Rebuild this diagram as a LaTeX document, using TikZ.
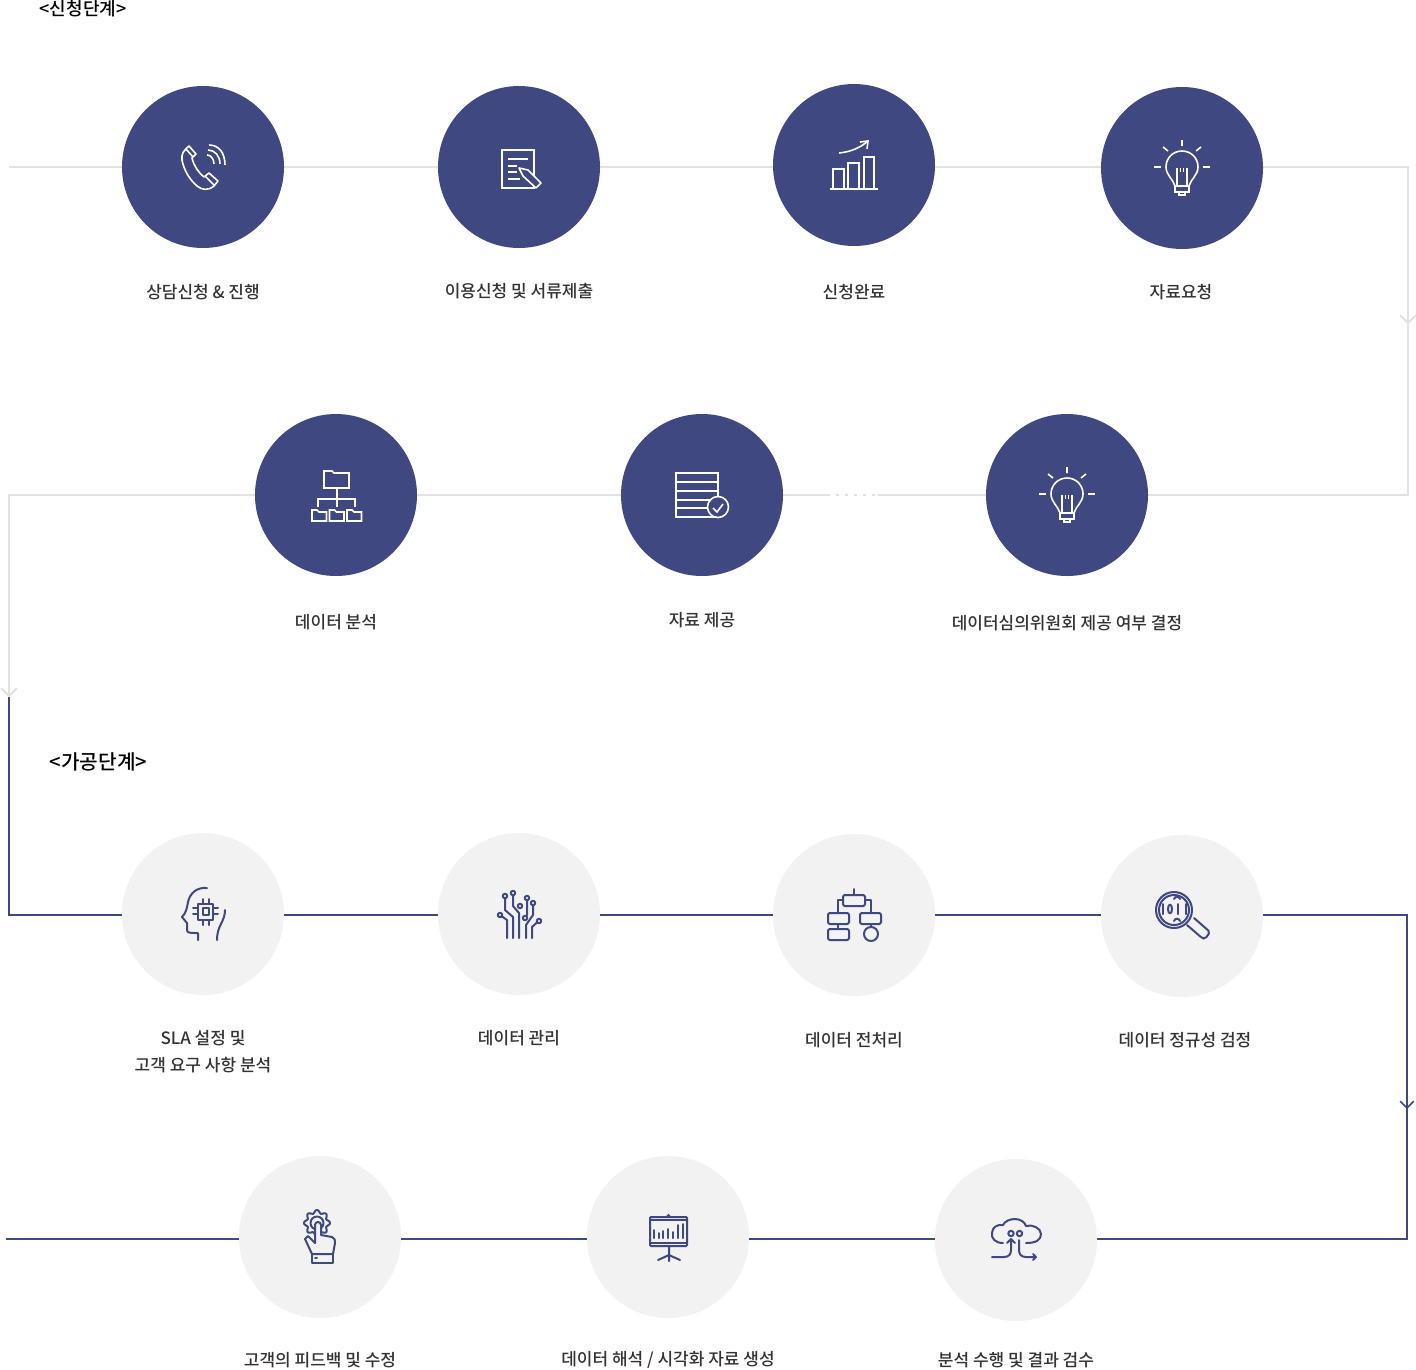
\documentclass[tikz,border=0pt]{standalone}
\usepackage{fontspec}
\setmainfont{Noto Sans CJK KR Medium}
\usetikzlibrary{backgrounds}
\definecolor{navy}{HTML}{3F4880}
\definecolor{pale}{HTML}{F2F2F2}
\definecolor{rule}{HTML}{E2E2E2}
\definecolor{ink}{HTML}{333333}
\tikzset{
  darkdot/.style={circle,fill=navy,minimum size=162pt,inner sep=0},
  paledot/.style={circle,fill=pale,minimum size=162pt,inner sep=0},
  steplabel/.style={text=ink,font=\fontsize{17}{27}\selectfont,align=center,inner sep=0},
  grayline/.style={draw=rule,line width=2pt},
  blueline/.style={draw=navy,line width=2pt},
  wicon/.style={draw=white,line width=1.6pt},
  bicon/.style={draw=navy,line width=2pt,line cap=round,line join=round},
  chevron/.pic={\draw[pic actions,fill=none] (-8,-8) -- (0,0) -- (8,-8);},
  bulb/.pic={
    \draw[wicon,fill=navy] (-7,19) .. controls (-9,12) and (-16,8) .. (-16,0) .. controls (-16,-9) and (-9,-16) .. (0,-16)
      .. controls (9,-16) and (16,-9) .. (16,0) .. controls (16,8) and (9,12) .. (7,19) -- cycle;
    \draw[wicon] (-5,19) -- (-5,1) (5,1) -- (5,19);
    \draw[draw=white,line width=1.1pt] (-1.7,1) -- (-1.7,5) (1.7,1) -- (1.7,5);
    \draw[wicon] (-7,19) rectangle (7,25) (-3,25) rectangle (3,28);
    \draw[wicon] (0,-27) -- (0,-21) (-19,-20) -- (-14,-16) (19,-20) -- (14,-16);
    \draw[wicon] (-28,0) -- (-21,0) (21,0) -- (28,0);
  }
}
\begin{document}
\begin{tikzpicture}[x=1pt,y=-1pt]
\useasboundingbox (0,0) rectangle (1416,1369);
% first stage
\node[text=black,font=\fontsize{18}{20}\selectfont,inner sep=0] (reqtitle) at (83,9) {<신청단계>};
\node[darkdot] (req1) at (203,167) {};
\node[darkdot] (req2) at (519,167) {};
\node[darkdot] (req3) at (854,165) {};
\node[darkdot] (req4) at (1182,168) {};
\node[darkdot] (rev1) at (336,495) {};
\node[darkdot] (rev2) at (702,495) {};
\node[darkdot] (rev3) at (1067,495) {};
\node[steplabel] (reqtext1) at (203,292) {상담신청 \& 진행};
\node[steplabel] (reqtext2) at (519,291) {이용신청 및 서류제출};
\node[steplabel] (reqtext3) at (854,292) {신청완료};
\node[steplabel] (reqtext4) at (1181,292) {자료요청};
\node[steplabel] (revtext1) at (336,622) {데이터 분석};
\node[steplabel] (revtext2) at (702,620) {자료 제공};
\node[steplabel] (revtext3) at (1067,623) {데이터심의위원회 제공 여부 결정};
% second stage
\node[text=black,font=\fontsize{20.2}{22}\selectfont,inner sep=0] (protitle) at (98.5,762) {<가공단계>};
\node[paledot] (pro1) at (203,914) {};
\node[paledot] (pro2) at (519,914) {};
\node[paledot] (pro3) at (854,915) {};
\node[paledot] (pro4) at (1182,916) {};
\node[paledot] (ana1) at (320,1237) {};
\node[paledot] (ana2) at (668,1237) {};
\node[paledot] (ana3) at (1016,1240) {};
\node[steplabel] (protext1) at (203,1051.5) {SLA 설정 및\\고객 요구 사항 분석};
\node[steplabel] (protext2) at (519,1038) {데이터 관리};
\node[steplabel] (protext3) at (854,1040) {데이터 전처리};
\node[steplabel] (protext4) at (1185,1040) {데이터 정규성 검정};
\node[steplabel] (anatext1) at (320,1360) {고객의 피드백 및 수정};
\node[steplabel] (anatext2) at (668,1360) {데이터 해석 / 시각화 자료 생성};
\node[steplabel] (anatext3) at (1016,1360) {분석 수행 및 결과 검수};
% connectors
\coordinate (gstart) at (9,167);
\coordinate (gtop) at (1408,167);
\coordinate (gmid) at (1408,495);
\coordinate (gleft) at (9,495);
\coordinate (gend) at (9,697);
\coordinate (btop) at (9,697);
\coordinate (bleft) at (9,915);
\coordinate (bright) at (1407,915);
\coordinate (bdown) at (1407,1239);
\coordinate (bend) at (6,1239);
\begin{scope}[on background layer]
\draw[grayline] (gstart) -- (req1 |- gstart) -- (req2 |- gstart) -- (req3 |- gstart) -- (req4 |- gstart) -- (gtop)
  -- (gmid) -- (rev3) -- (rev2) -- (rev1) -- (gleft) -- (gend);
\draw[blueline] (btop) -- (bleft) -- (pro1 |- bleft) -- (pro2 |- bleft) -- (pro3 |- bleft) -- (pro4 |- bleft) -- (bright)
  -- (bdown) -- (ana3 |- bdown) -- (ana2 |- bdown) -- (ana1 |- bdown) -- (bend);
\end{scope}
\pic[grayline] at (1408,323) {chevron};
\pic[grayline] at (9,696) {chevron};
\pic[draw=navy,line width=1.5pt,scale=.85] at (1407,1108) {chevron};
\draw[white,line width=1.2pt,dash pattern=on 6pt off 3pt] (830,495) -- (878,495);
% phone
\draw[wicon,line join=round] (189,146) -- (196,154) -- (192,158) .. controls (194,166) and (198,172) .. (204,177) -- (209,173) -- (218,181)
  -- (214,186) .. controls (208,191) and (202,190) .. (197,186) .. controls (189,179) and (184,170) .. (182,160) .. controls (181,154) and (184,150) .. cycle;
\draw[wicon] (186,149) -- (193,157) (205,176) -- (214,185);
\draw[wicon] (207,155) .. controls (211,155) and (214,159) .. (214,164);
\draw[wicon] (208,150) .. controls (215,150) and (220,156) .. (220,164);
\draw[wicon] (209,145) .. controls (219,145) and (225,153) .. (225,165);
% document
\draw[wicon] (502,150) rectangle (534,188);
\draw[wicon] (508,159) -- (528,159) (508,166) -- (517,166) (508,172) -- (517,172) (508,179) -- (520,179);
\draw[wicon,fill=navy,line join=round] (519,168) -- (528,170) -- (541,183) -- (536,188) -- (523,176) -- cycle;
% chart
\draw[wicon] (830,189) -- (878,189);
\draw[wicon] (833,189) rectangle (844,169) (848,189) rectangle (859,163) (864,189) rectangle (874,157);
\draw[wicon] (839,153) .. controls (850,152) and (860,148) .. (868,141);
\draw[wicon] (860,142) -- (868,141) -- (867,149);
% bulbs
\pic at (1182,167) {bulb};
\pic at (1067,494) {bulb};
% folders
\draw[wicon] (324,488) -- (324,471) -- (332,471) -- (334,473) -- (349,473) -- (349,488) -- cycle;
\draw[wicon] (337,488) -- (337,507) (318,507) -- (318,499) -- (355,499) -- (355,507);
\foreach \x in {312,329.5,347}
  \draw[wicon] (\x,521) -- (\x,510) -- (\x+5,510) -- (\x+7,512) -- (\x+14.5,512) -- (\x+14.5,521) -- cycle;
% table
\draw[wicon] (676,473) rectangle (718,517);
\draw[wicon] (676,482) -- (718,482) (676,491) -- (718,491) (676,500) -- (718,500) (676,508) -- (718,508);
\draw[wicon,fill=navy] (718,507) circle (10.5);
\draw[wicon] (713,508) -- (717,512) -- (723,504);
% head
\draw[bicon] (207,888) .. controls (197,887) and (190,893) .. (188,902) .. controls (187,908) and (186,913) .. (182,917) -- (187,923) -- (187,930) .. controls (187,933) and (190,933) .. (198,933) -- (198,940);
\draw[bicon] (225,910) .. controls (225,922) and (217,925) .. (217,940);
\draw[bicon] (198,904) rectangle (213,920) (203,908) rectangle (209,915);
\foreach \d in {-3,3} {
  \draw[bicon] (193,911+\d) -- (198,911+\d) (213,911+\d) -- (218,911+\d);
  \draw[bicon] (205.5+\d,899) -- (205.5+\d,904) (205.5+\d,920) -- (205.5+\d,925);
}
% circuit
\draw[bicon] (501.5,916) -- (507,920) -- (507,938);
\draw[bicon] (505,898) -- (505,910) -- (513,917) -- (513,938);
\draw[bicon] (513,895) -- (513,906) -- (519,913) -- (519,938);
\draw[bicon] (527,900) -- (527,915) -- (526,916);
\draw[bicon] (533,905) -- (533,915) -- (526,925) -- (526,938);
\draw[bicon] (537.5,922) -- (532,927) -- (532,938);
\foreach \x/\y in {500/915,505/896,513/893,520/906,527/898,525/918,533/903,539/921}
  \draw[bicon] (\x,\y) circle (2.2);
% flow chart
\draw[bicon,rounded corners=1.5pt] (843,895) rectangle (865,906) (828,913) rectangle (849,924) (860,913) rectangle (881,924) (828,929) rectangle (849,940);
\draw[bicon] (854,889) -- (854,895) (838,913) -- (838,900) -- (843,900) (865,900) -- (871,900) -- (871,913);
\draw[bicon] (838,924) -- (838,929) (871,924) -- (871,927);
\draw[bicon] (871,934) circle (7);
% magnifier
\draw[bicon] (1174,910) circle (18) (1174,910) circle (15);
\draw[bicon,rounded corners=2pt] (1194,918) -- (1210,932) -- (1205,939) -- (1202,938) -- (1187,925);
\draw[bicon] (1163,904) -- (1163,914) (1178,904) -- (1178,914) (1186,904) -- (1186,914);
\draw[bicon] (1170,909) ellipse (2 and 4.5);
\draw[bicon] (1174,899) .. controls (1175,896) and (1179,896) .. (1180,899);
\draw[bicon] (1174,921) .. controls (1175,918) and (1179,918) .. (1180,921);
% hand and gear
\draw[bicon] plot[domain=0:360,samples=121,smooth] ({317+(11.5+1.5*cos(8*\x))*cos(\x)},{1223+(11.5+1.5*cos(8*\x))*sin(\x)});
\draw[bicon] (317,1223) circle (6.5);
\draw[bicon,fill=pale] (315,1243) -- (315,1225) .. controls (315,1221) and (321,1221) .. (321,1225) -- (321,1235) -- (332,1237) .. controls (335,1238) and (335,1240) .. (335,1243) -- (333,1254) -- (312,1254) -- (305,1239) -- (308,1236) -- cycle;
\draw[bicon] (312,1254) rectangle (333,1263);
\draw[bicon] (315,1258) -- (317,1258);
% presentation
\draw[bicon,rounded corners=1pt] (650,1217) rectangle (687,1246);
\draw[bicon] (650,1220) -- (687,1220) (650,1243) -- (687,1243);
\draw[navy,fill=navy] (668.5,1216) circle (1.8);
\draw[bicon] (669,1246) -- (669,1261) (658,1260) -- (669,1255) -- (680,1260);
\foreach \x/\y in {654/1230,659/1233,663/1231,668/1229,673/1232,678/1225,683/1224}
  \draw[bicon] (\x,\y) -- (\x,1238);
% cloud
\draw[bicon] (1003,1243) .. controls (995,1243) and (991,1238) .. (992,1233) .. controls (992,1227) and (998,1224) .. (1003,1225)
  .. controls (1005,1221) and (1010,1219) .. (1015,1219) .. controls (1020,1219) and (1025,1222) .. (1026,1226)
  .. controls (1032,1224) and (1041,1228) .. (1041,1234) .. controls (1041,1240) and (1036,1243) .. (1026,1243);
\draw[bicon] (992,1257) -- (1004,1257) .. controls (1009,1257) and (1011,1254) .. (1011,1250) -- (1011,1239);
\draw[bicon] (1007,1243) -- (1011,1239) -- (1015,1243);
\draw[bicon] (1019,1240) -- (1019,1250) .. controls (1019,1254) and (1021,1257) .. (1026,1257) -- (1036,1257);
\draw[bicon] (1033,1254) -- (1036,1257) -- (1033,1260);
\draw[bicon] (1011,1233.5) circle (2.7) (1019.5,1233.5) circle (2.7);
\end{tikzpicture}
\end{document}
